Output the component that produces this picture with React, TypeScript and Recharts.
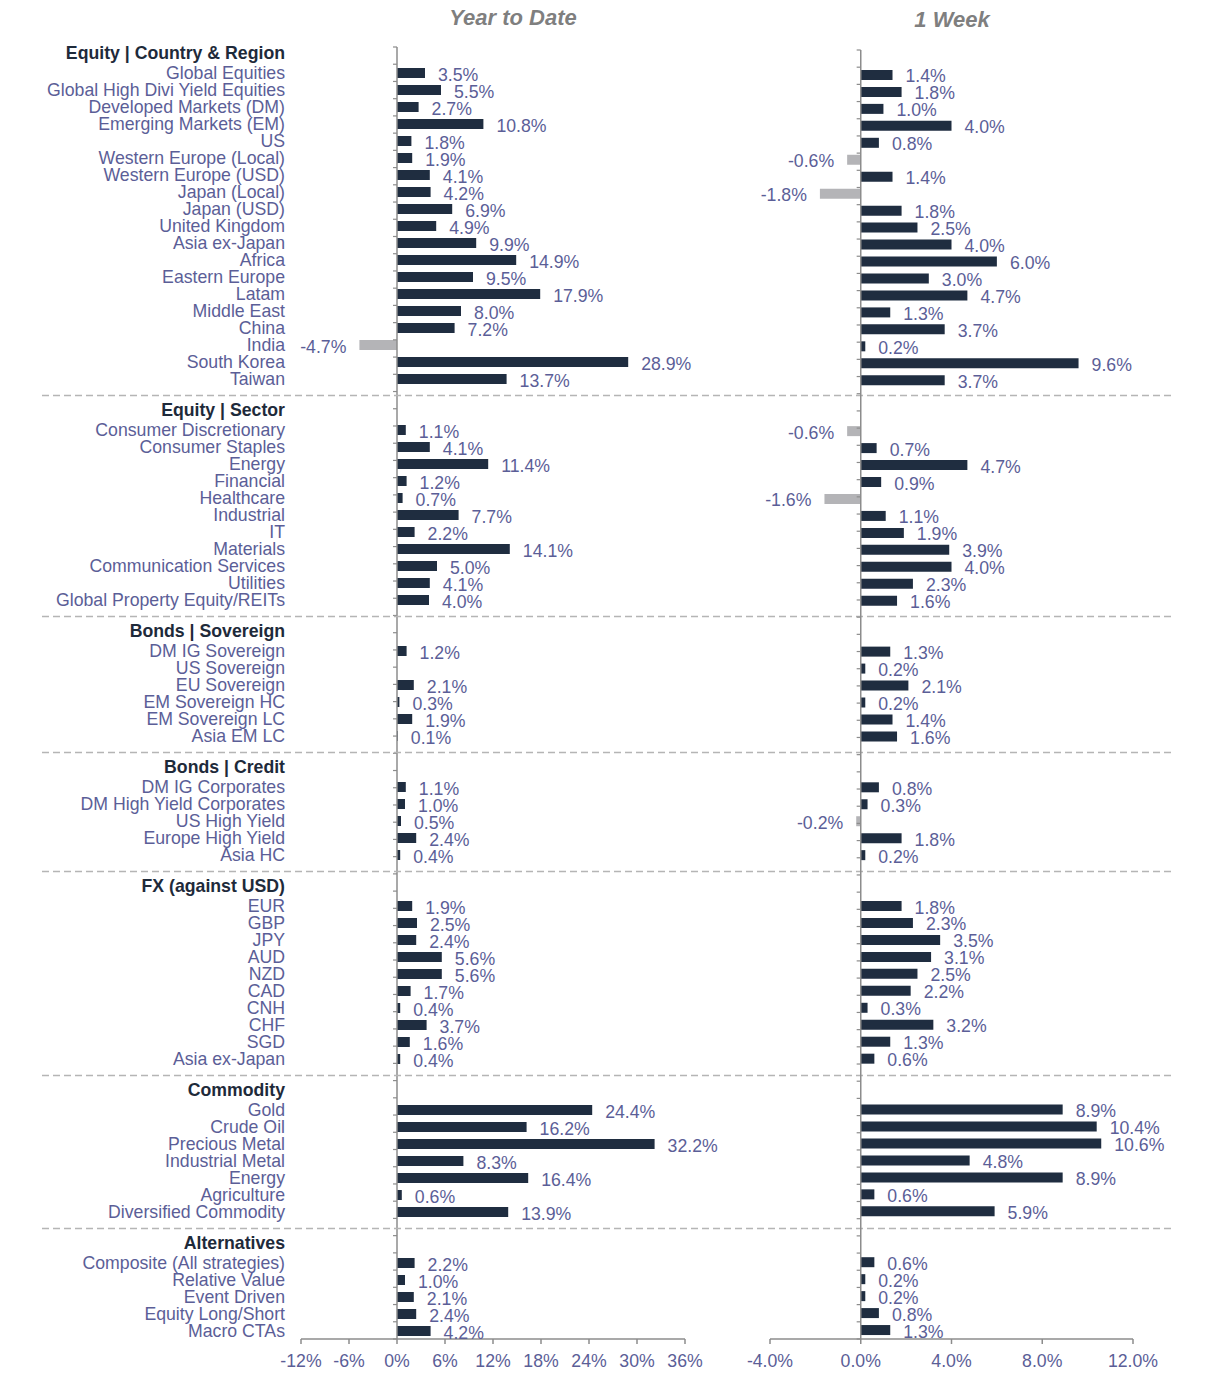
import { Bar, BarChart, Cell, LabelList, ReferenceLine, XAxis, YAxis } from "recharts";

const countryNames = [
  "Global Equities",
  "Global High Divi Yield Equities",
  "Developed Markets (DM)",
  "Emerging Markets (EM)",
  "US",
  "Western Europe (Local)",
  "Western Europe (USD)",
  "Japan (Local)",
  "Japan (USD)",
  "United Kingdom",
  "Asia ex-Japan",
  "Africa",
  "Eastern Europe",
  "Latam",
  "Middle East",
  "China",
  "India",
  "South Korea",
  "Taiwan",
];
const countryYtd = [3.5, 5.5, 2.7, 10.8, 1.8, 1.9, 4.1, 4.2, 6.9, 4.9, 9.9, 14.9, 9.5, 17.9, 8.0, 7.2, -4.7, 28.9, 13.7];
const countryWeek = [1.4, 1.8, 1.0, 4.0, 0.8, -0.6, 1.4, -1.8, 1.8, 2.5, 4.0, 6.0, 3.0, 4.7, 1.3, 3.7, 0.2, 9.6, 3.7];

const sectorNames = [
  "Consumer Discretionary",
  "Consumer Staples",
  "Energy",
  "Financial",
  "Healthcare",
  "Industrial",
  "IT",
  "Materials",
  "Communication Services",
  "Utilities",
  "Global Property Equity/REITs",
];
const sectorYtd = [1.1, 4.1, 11.4, 1.2, 0.7, 7.7, 2.2, 14.1, 5.0, 4.1, 4.0];
const sectorWeek = [-0.6, 0.7, 4.7, 0.9, -1.6, 1.1, 1.9, 3.9, 4.0, 2.3, 1.6];

const sovereignNames = ["DM IG Sovereign", "US Sovereign", "EU Sovereign", "EM Sovereign HC", "EM Sovereign LC", "Asia EM LC"];
const sovereignYtd = [1.2, 0.0, 2.1, 0.3, 1.9, 0.1];
const sovereignWeek = [1.3, 0.2, 2.1, 0.2, 1.4, 1.6];

const creditNames = ["DM IG Corporates", "DM High Yield Corporates", "US High Yield", "Europe High Yield", "Asia HC"];
const creditYtd = [1.1, 1.0, 0.5, 2.4, 0.4];
const creditWeek = [0.8, 0.3, -0.2, 1.8, 0.2];

const fxNames = ["EUR", "GBP", "JPY", "AUD", "NZD", "CAD", "CNH", "CHF", "SGD", "Asia ex-Japan"];
const fxYtd = [1.9, 2.5, 2.4, 5.6, 5.6, 1.7, 0.4, 3.7, 1.6, 0.4];
const fxWeek = [1.8, 2.3, 3.5, 3.1, 2.5, 2.2, 0.3, 3.2, 1.3, 0.6];

const commodityNames = ["Gold", "Crude Oil", "Precious Metal", "Industrial Metal", "Energy", "Agriculture", "Diversified Commodity"];
const commodityYtd = [24.4, 16.2, 32.2, 8.3, 16.4, 0.6, 13.9];
const commodityWeek = [8.9, 10.4, 10.6, 4.8, 8.9, 0.6, 5.9];

const altNames = ["Composite (All strategies)", "Relative Value", "Event Driven", "Equity Long/Short", "Macro CTAs"];
const altYtd = [2.2, 1.0, 2.1, 2.4, 4.2];
const altWeek = [0.6, 0.2, 0.2, 0.8, 1.3];

const ytdTicks = [-12, -6, 0, 6, 12, 18, 24, 30, 36];
const weekTicks = [-4, 0, 4, 8, 12];

const sections = [
  { title: "Equity | Country & Region", names: countryNames, ytd: countryYtd, week: countryWeek },
  { title: "Equity | Sector", names: sectorNames, ytd: sectorYtd, week: sectorWeek },
  { title: "Bonds | Sovereign", names: sovereignNames, ytd: sovereignYtd, week: sovereignWeek },
  { title: "Bonds | Credit", names: creditNames, ytd: creditYtd, week: creditWeek },
  { title: "FX (against USD)", names: fxNames, ytd: fxYtd, week: fxWeek },
  { title: "Commodity", names: commodityNames, ytd: commodityYtd, week: commodityWeek },
  { title: "Alternatives", names: altNames, ytd: altYtd, week: altWeek },
];

type Row = {
  id: string;
  kind: "header" | "item" | "sep";
  label: string;
  ytd: number | null;
  week: number | null;
};

const rows: Row[] = [];
sections.forEach((s, si) => {
  if (si > 0) rows.push({ id: `sep${si}`, kind: "sep", label: "", ytd: null, week: null });
  rows.push({ id: `h${si}`, kind: "header", label: s.title, ytd: null, week: null });
  s.names.forEach((name, i) => {
    rows.push({ id: `r${si}-${i}`, kind: "item", label: name, ytd: s.ytd[i], week: s.week[i] });
  });
});
const rowById = new Map(rows.map((r) => [r.id, r]));
const boundaries = Array.from({ length: rows.length + 1 }, (_, k) => k);

const NAVY = "#1f2d40";
const NEG = "#b4b4b7";
const LABEL = "#5b5e97";
const HEADER = "#1e2a3a";
const AXIS = "#8c8c8c";
const FONT = 17.7;

function CategoryTick(props: any) {
  const { x, y, payload } = props;
  const row = rowById.get(payload.value);
  if (!row) return null;
  if (row.kind === "sep") {
    return (
      <line x1={42} x2={1172} y1={y} y2={y} stroke="#b5b5b5" strokeWidth={1.5} strokeDasharray="7 4" />
    );
  }
  const header = row.kind === "header";
  return (
    <text
      x={x}
      y={y + (header ? 3 : 6)}
      textAnchor="end"
      fontSize={FONT}
      fontWeight={header ? 700 : 400}
      fill={header ? HEADER : LABEL}
    >
      {row.label}
    </text>
  );
}

function ValueLabel(props: any) {
  const { x, y, width, height, value } = props;
  if (value === null || value === undefined) return null;
  const left = Math.min(x, x + width);
  const right = Math.max(x, x + width);
  const pos = value > 0;
  return (
    <text
      x={pos ? right + 13 : left - 13}
      y={y + height / 2 + 7.5}
      textAnchor={pos ? "start" : "end"}
      fontSize={FONT}
      fill={LABEL}
    >
      {`${value.toFixed(1)}%`}
    </text>
  );
}

export default function App() {
  return (
    <div
      style={{
        position: "absolute",
        left: 0,
        top: 0,
        width: 1208,
        height: 1390,
        background: "#fff",
        fontFamily: '"Liberation Sans", Arial, sans-serif',
      }}
    >
      <div
        style={{
          position: "absolute",
          left: 413,
          width: 200,
          top: 7,
          lineHeight: "22px",
          textAlign: "center",
          fontSize: 22,
          fontWeight: 700,
          fontStyle: "italic",
          color: "#7f7f7f",
        }}
      >
        Year to Date
      </div>
      <div
        style={{
          position: "absolute",
          left: 852,
          width: 200,
          top: 9,
          lineHeight: "22px",
          textAlign: "center",
          fontSize: 22,
          fontWeight: 700,
          fontStyle: "italic",
          color: "#7f7f7f",
        }}
      >
        1 Week
      </div>

      <div style={{ position: "absolute", left: 0, top: 0 }}>
        <BarChart
          width={1208}
          height={1390}
          layout="vertical"
          data={rows}
          margin={{ top: 47, right: 523, bottom: 21, left: 0 }}
        >
          <XAxis
            type="number"
            domain={[-12, 36]}
            ticks={ytdTicks}
            tickFormatter={(v) => `${v}%`}
            height={30}
            stroke={AXIS}
            strokeWidth={1.5}
            tickSize={5}
            tickMargin={10}
            tick={{ fontSize: FONT, fill: LABEL }}
          />
          <YAxis
            type="category"
            dataKey="id"
            width={301}
            axisLine={false}
            tickLine={false}
            tickSize={0}
            tickMargin={16}
            interval={0}
            tick={<CategoryTick />}
          />
          <YAxis yAxisId="grid" type="number" domain={[0, rows.length]} allowDataOverflow hide />
          <Bar dataKey="ytd" barSize={10} isAnimationActive={false}>
            {rows.map((r) => (
              <Cell key={r.id} fill={(r.ytd ?? 0) < 0 ? NEG : NAVY} />
            ))}
            <LabelList dataKey="ytd" content={<ValueLabel />} />
          </Bar>
          <ReferenceLine x={0} stroke={AXIS} strokeWidth={1.5} />
          {boundaries.map((k) => (
            <ReferenceLine
              key={k}
              yAxisId="grid"
              segment={[
                { x: -0.5, y: k },
                { x: 0, y: k },
              ]}
              stroke={AXIS}
              strokeWidth={1.2}
            />
          ))}
        </BarChart>
      </div>

      <div style={{ position: "absolute", left: 0, top: 0 }}>
        <BarChart
          width={1208}
          height={1390}
          layout="vertical"
          data={rows}
          margin={{ top: 50, right: 75, bottom: 21, left: 770 }}
        >
          <XAxis
            type="number"
            domain={[-4, 12]}
            ticks={weekTicks}
            tickFormatter={(v) => `${v.toFixed(1)}%`}
            height={30}
            stroke={AXIS}
            strokeWidth={1.5}
            tickSize={5}
            tickMargin={10}
            tick={{ fontSize: FONT, fill: LABEL }}
          />
          <YAxis type="category" dataKey="id" hide />
          <YAxis yAxisId="grid" type="number" domain={[0, rows.length]} allowDataOverflow hide />
          <Bar dataKey="week" barSize={10} isAnimationActive={false}>
            {rows.map((r) => (
              <Cell key={r.id} fill={(r.week ?? 0) < 0 ? NEG : NAVY} />
            ))}
            <LabelList dataKey="week" content={<ValueLabel />} />
          </Bar>
          <ReferenceLine x={0} stroke={AXIS} strokeWidth={1.5} />
          {boundaries.map((k) => (
            <ReferenceLine
              key={k}
              yAxisId="grid"
              segment={[
                { x: -0.18, y: k },
                { x: 0, y: k },
              ]}
              stroke={AXIS}
              strokeWidth={1.2}
            />
          ))}
        </BarChart>
      </div>
    </div>
  );
}
